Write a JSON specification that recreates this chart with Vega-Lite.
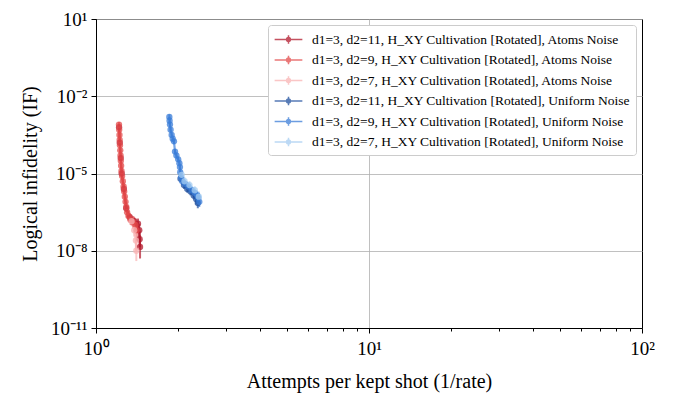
{
  "$schema": "https://vega.github.io/schema/vega-lite/v6.json",
  "width": 546,
  "height": 309,
  "autosize": {"type": "none"},
  "padding": {"left": 96, "top": 19, "right": 39, "bottom": 68},
  "background": "white",
  "config": {
    "view": {"stroke": "black", "strokeWidth": 1},
    "font": "Liberation Serif",
    "axis": {
      "labelFont": "Liberation Serif",
      "titleFont": "Liberation Serif",
      "labelColor": "black",
      "titleColor": "black",
      "domainColor": "black",
      "tickColor": "black",
      "gridColor": "#b0b0b0",
      "gridWidth": 0.8,
      "titleFontWeight": "normal",
      "labelFontSize": 19,
      "titleFontSize": 20
    },
    "legend": {
      "labelFont": "Liberation Serif",
      "labelFontSize": 13.5,
      "labelColor": "black",
      "labelLimit": 0
    }
  },
  "data": {
    "values": [
      {"s": "A11", "x": 1.215, "y": 6.31e-4, "lo": 5.01e-4, "hi": 7.94e-4},
      {"s": "A11", "x": 1.222, "y": 1.58e-4, "lo": 1.26e-4, "hi": 2.0e-4},
      {"s": "A11", "x": 1.232, "y": 3.98e-5, "lo": 3.16e-5, "hi": 5.01e-5},
      {"s": "A11", "x": 1.242, "y": 1.0e-5, "lo": 7.08e-6, "hi": 1.41e-5},
      {"s": "A11", "x": 1.265, "y": 2.51e-6, "lo": 1.78e-6, "hi": 3.55e-6},
      {"s": "A11", "x": 1.29, "y": 4.47e-7, "lo": 3.16e-7, "hi": 6.31e-7},
      {"s": "A11", "x": 1.33, "y": 2.0e-7, "lo": 1.41e-7, "hi": 2.82e-7},
      {"s": "A11", "x": 1.38, "y": 1.41e-7, "lo": 1.0e-7, "hi": 2.0e-7},
      {"s": "A11", "x": 1.425, "y": 1.12e-7, "lo": 7.08e-8, "hi": 1.78e-7},
      {"s": "A11", "x": 1.44, "y": 6.31e-8, "lo": 3.55e-8, "hi": 1.12e-7},
      {"s": "A11", "x": 1.445, "y": 2.82e-8, "lo": 1.41e-8, "hi": 5.62e-8},
      {"s": "A11", "x": 1.45, "y": 1.41e-8, "lo": 5.01e-9, "hi": 3.98e-8},

      {"s": "A9", "x": 1.214, "y": 7.94e-4, "lo": 6.31e-4, "hi": 1.0e-3},
      {"s": "A9", "x": 1.216, "y": 5.01e-4, "lo": 3.98e-4, "hi": 6.31e-4},
      {"s": "A9", "x": 1.219, "y": 3.16e-4, "lo": 2.51e-4, "hi": 3.98e-4},
      {"s": "A9", "x": 1.221, "y": 2.0e-4, "lo": 1.58e-4, "hi": 2.51e-4},
      {"s": "A9", "x": 1.224, "y": 1.26e-4, "lo": 1.0e-4, "hi": 1.58e-4},
      {"s": "A9", "x": 1.227, "y": 7.94e-5, "lo": 6.31e-5, "hi": 1.0e-4},
      {"s": "A9", "x": 1.23, "y": 5.01e-5, "lo": 3.98e-5, "hi": 6.31e-5},
      {"s": "A9", "x": 1.233, "y": 3.16e-5, "lo": 2.24e-5, "hi": 4.47e-5},
      {"s": "A9", "x": 1.236, "y": 2.0e-5, "lo": 1.41e-5, "hi": 2.82e-5},
      {"s": "A9", "x": 1.24, "y": 1.26e-5, "lo": 8.91e-6, "hi": 1.78e-5},
      {"s": "A9", "x": 1.246, "y": 7.94e-6, "lo": 5.62e-6, "hi": 1.12e-5},
      {"s": "A9", "x": 1.254, "y": 5.01e-6, "lo": 3.55e-6, "hi": 7.08e-6},
      {"s": "A9", "x": 1.262, "y": 3.16e-6, "lo": 2.24e-6, "hi": 4.47e-6},
      {"s": "A9", "x": 1.268, "y": 2.0e-6, "lo": 1.41e-6, "hi": 2.82e-6},
      {"s": "A9", "x": 1.275, "y": 1.26e-6, "lo": 8.91e-7, "hi": 1.78e-6},
      {"s": "A9", "x": 1.283, "y": 7.94e-7, "lo": 5.01e-7, "hi": 1.26e-6},
      {"s": "A9", "x": 1.291, "y": 5.01e-7, "lo": 3.16e-7, "hi": 7.94e-7},
      {"s": "A9", "x": 1.3, "y": 3.16e-7, "lo": 2.0e-7, "hi": 5.01e-7},
      {"s": "A9", "x": 1.315, "y": 2.24e-7, "lo": 1.41e-7, "hi": 3.55e-7},
      {"s": "A9", "x": 1.34, "y": 1.58e-7, "lo": 1.0e-7, "hi": 2.51e-7},
      {"s": "A9", "x": 1.37, "y": 1.26e-7, "lo": 7.08e-8, "hi": 2.24e-7},
      {"s": "A9", "x": 1.395, "y": 1.0e-7, "lo": 5.62e-8, "hi": 1.78e-7},
      {"s": "A9", "x": 1.41, "y": 6.31e-8, "lo": 3.16e-8, "hi": 1.26e-7},

      {"s": "A7", "x": 1.35, "y": 1.41e-7, "lo": 8.91e-8, "hi": 2.24e-7},
      {"s": "A7", "x": 1.38, "y": 6.31e-8, "lo": 3.55e-8, "hi": 1.12e-7},
      {"s": "A7", "x": 1.4, "y": 2.51e-8, "lo": 1.26e-8, "hi": 5.01e-8},
      {"s": "A7", "x": 1.405, "y": 1.0e-8, "lo": 3.98e-9, "hi": 2.51e-8},

      {"s": "U11", "x": 2.04, "y": 6.31e-6, "lo": 4.47e-6, "hi": 8.91e-6},
      {"s": "U11", "x": 2.1, "y": 3.55e-6, "lo": 2.51e-6, "hi": 5.01e-6},
      {"s": "U11", "x": 2.16, "y": 2.51e-6, "lo": 1.78e-6, "hi": 3.55e-6},
      {"s": "U11", "x": 2.22, "y": 2.0e-6, "lo": 1.41e-6, "hi": 2.82e-6},
      {"s": "U11", "x": 2.28, "y": 1.41e-6, "lo": 1.0e-6, "hi": 2.0e-6},
      {"s": "U11", "x": 2.33, "y": 1.0e-6, "lo": 6.31e-7, "hi": 1.58e-6},
      {"s": "U11", "x": 2.36, "y": 7.08e-7, "lo": 4.47e-7, "hi": 1.12e-6},

      {"s": "U9", "x": 1.856, "y": 1.58e-3, "lo": 1.26e-3, "hi": 2.0e-3},
      {"s": "U9", "x": 1.86, "y": 1.12e-3, "lo": 8.91e-4, "hi": 1.41e-3},
      {"s": "U9", "x": 1.866, "y": 7.94e-4, "lo": 6.31e-4, "hi": 1.0e-3},
      {"s": "U9", "x": 1.876, "y": 5.01e-4, "lo": 3.98e-4, "hi": 6.31e-4},
      {"s": "U9", "x": 1.893, "y": 3.16e-4, "lo": 2.51e-4, "hi": 3.98e-4},
      {"s": "U9", "x": 1.91, "y": 2.24e-4, "lo": 1.78e-4, "hi": 2.82e-4},
      {"s": "U9", "x": 1.93, "y": 1.78e-4, "lo": 1.41e-4, "hi": 2.24e-4},
      {"s": "U9", "x": 1.947, "y": 7.08e-5, "lo": 5.62e-5, "hi": 8.91e-5},
      {"s": "U9", "x": 1.97, "y": 5.01e-5, "lo": 3.98e-5, "hi": 6.31e-5},
      {"s": "U9", "x": 2.0, "y": 3.55e-5, "lo": 2.82e-5, "hi": 4.47e-5},
      {"s": "U9", "x": 2.02, "y": 2.51e-5, "lo": 2.0e-5, "hi": 3.16e-5},
      {"s": "U9", "x": 2.03, "y": 1.78e-5, "lo": 1.41e-5, "hi": 2.24e-5},
      {"s": "U9", "x": 2.035, "y": 1.12e-5, "lo": 7.94e-6, "hi": 1.58e-5},
      {"s": "U9", "x": 2.05, "y": 7.08e-6, "lo": 5.01e-6, "hi": 1.0e-5},
      {"s": "U9", "x": 2.07, "y": 5.01e-6, "lo": 3.55e-6, "hi": 7.08e-6},
      {"s": "U9", "x": 2.12, "y": 3.98e-6, "lo": 2.82e-6, "hi": 5.62e-6},
      {"s": "U9", "x": 2.18, "y": 3.16e-6, "lo": 2.24e-6, "hi": 4.47e-6},
      {"s": "U9", "x": 2.24, "y": 2.24e-6, "lo": 1.58e-6, "hi": 3.16e-6},
      {"s": "U9", "x": 2.3, "y": 1.78e-6, "lo": 1.26e-6, "hi": 2.51e-6},
      {"s": "U9", "x": 2.35, "y": 1.41e-6, "lo": 1.0e-6, "hi": 2.0e-6},
      {"s": "U9", "x": 2.37, "y": 1.12e-6, "lo": 7.08e-7, "hi": 1.78e-6},
      {"s": "U9", "x": 2.39, "y": 7.94e-7, "lo": 5.01e-7, "hi": 1.26e-6},

      {"s": "U7", "x": 2.06, "y": 8.91e-6, "lo": 6.31e-6, "hi": 1.26e-5},
      {"s": "U7", "x": 2.11, "y": 5.01e-6, "lo": 3.55e-6, "hi": 7.08e-6},
      {"s": "U7", "x": 2.2, "y": 3.55e-6, "lo": 2.51e-6, "hi": 5.01e-6},
      {"s": "U7", "x": 2.3, "y": 2.24e-6, "lo": 1.58e-6, "hi": 3.16e-6},
      {"s": "U7", "x": 2.38, "y": 1.26e-6, "lo": 7.94e-7, "hi": 2.0e-6}
    ]
  },
  "encoding": {
    "x": {
      "field": "x",
      "type": "quantitative",
      "scale": {"type": "log", "domain": [1, 100], "nice": false},
      "axis": {
        "title": "Attempts per kept shot (1/rate)",
        "titlePadding": 13,
        "values": [1, 2, 3, 4, 5, 6, 7, 8, 9, 10, 20, 30, 40, 50, 60, 70, 80, 90, 100],
        "labelExpr": "datum.value == 1 ? '10⁰' : datum.value == 10 ? '10¹' : datum.value == 100 ? '10²' : ''",
        "labelOverlap": false,
        "labelFlush": false,
        "labelPadding": 6,
        "tickSize": {"condition": {"test": "datum.value == 1 || datum.value == 10 || datum.value == 100", "value": 5}, "value": 3},
        "grid": true,
        "gridOpacity": {"condition": {"test": "datum.value == 10", "value": 1}, "value": 0}
      }
    },
    "y": {
      "field": "y",
      "type": "quantitative",
      "scale": {"type": "log", "domain": [1e-11, 10], "nice": false},
      "axis": {
        "title": "Logical infidelity (IF)",
        "titlePadding": 10,
        "values": [1e-11, 1e-8, 1e-5, 1e-2, 10],
        "labelExpr": "datum.value < 1e-10 ? '10⁻¹¹' : datum.value < 1e-7 ? '10⁻⁸' : datum.value < 1e-4 ? '10⁻⁵' : datum.value < 0.1 ? '10⁻²' : '10¹'",
        "labelOverlap": false,
        "labelFlush": false,
        "labelPadding": 4,
        "tickSize": 5,
        "grid": true
      }
    },
    "color": {
      "field": "s",
      "type": "nominal",
      "scale": {
        "domain": ["A11", "A9", "A7", "U11", "U9", "U7"],
        "range": ["#b2182b", "#e34a4a", "#f9b4b4", "#1f4f9e", "#3b7dd8", "#a6cdf2"]
      },
      "legend": {
        "title": null,
        "orient": "top-right",
        "offset": 6,
        "padding": 5,
        "rowPadding": 3.5,
        "strokeColor": "#cccccc",
        "fillColor": "white",
        "cornerRadius": 3,
        "symbolType": "M-1.6,0H1.6M0,-0.5V0.5M0.22,0A0.22,0.22,0,1,1,-0.22,0A0.22,0.22,0,1,1,0.22,0",
        "symbolSize": 300,
        "symbolOffset": 6,
        "symbolStrokeWidth": 1.5,
        "symbolOpacity": 0.75,
        "labelOffset": 14,
        "labelExpr": "{'A11': 'd1=3, d2=11, H_XY Cultivation [Rotated], Atoms Noise', 'A9': 'd1=3, d2=9, H_XY Cultivation [Rotated], Atoms Noise', 'A7': 'd1=3, d2=7, H_XY Cultivation [Rotated], Atoms Noise', 'U11': 'd1=3, d2=11, H_XY Cultivation [Rotated], Uniform Noise', 'U9': 'd1=3, d2=9, H_XY Cultivation [Rotated], Uniform Noise', 'U7': 'd1=3, d2=7, H_XY Cultivation [Rotated], Uniform Noise'}[datum.value]"
      }
    }
  },
  "layer": [
    {
      "mark": {"type": "rule", "strokeWidth": 2, "opacity": 0.7},
      "encoding": {
        "y": {
          "field": "lo",
          "type": "quantitative",
          "scale": {"type": "log", "domain": [1e-11, 10], "nice": false},
          "axis": {
            "title": "Logical infidelity (IF)",
            "titlePadding": 10,
            "values": [1e-11, 1e-8, 1e-5, 1e-2, 10],
            "labelExpr": "datum.value < 1e-10 ? '10⁻¹¹' : datum.value < 1e-7 ? '10⁻⁸' : datum.value < 1e-4 ? '10⁻⁵' : datum.value < 0.1 ? '10⁻²' : '10¹'",
            "labelOverlap": false,
            "labelFlush": false,
            "labelPadding": 4,
            "tickSize": 5,
            "grid": true
          }
        },
        "y2": {"field": "hi"}
      }
    },
    {
      "mark": {"type": "line", "strokeWidth": 2.2, "opacity": 0.7},
      "encoding": {}
    },
    {
      "mark": {"type": "point", "filled": true, "size": 40, "opacity": 0.75},
      "encoding": {}
    }
  ]
}
